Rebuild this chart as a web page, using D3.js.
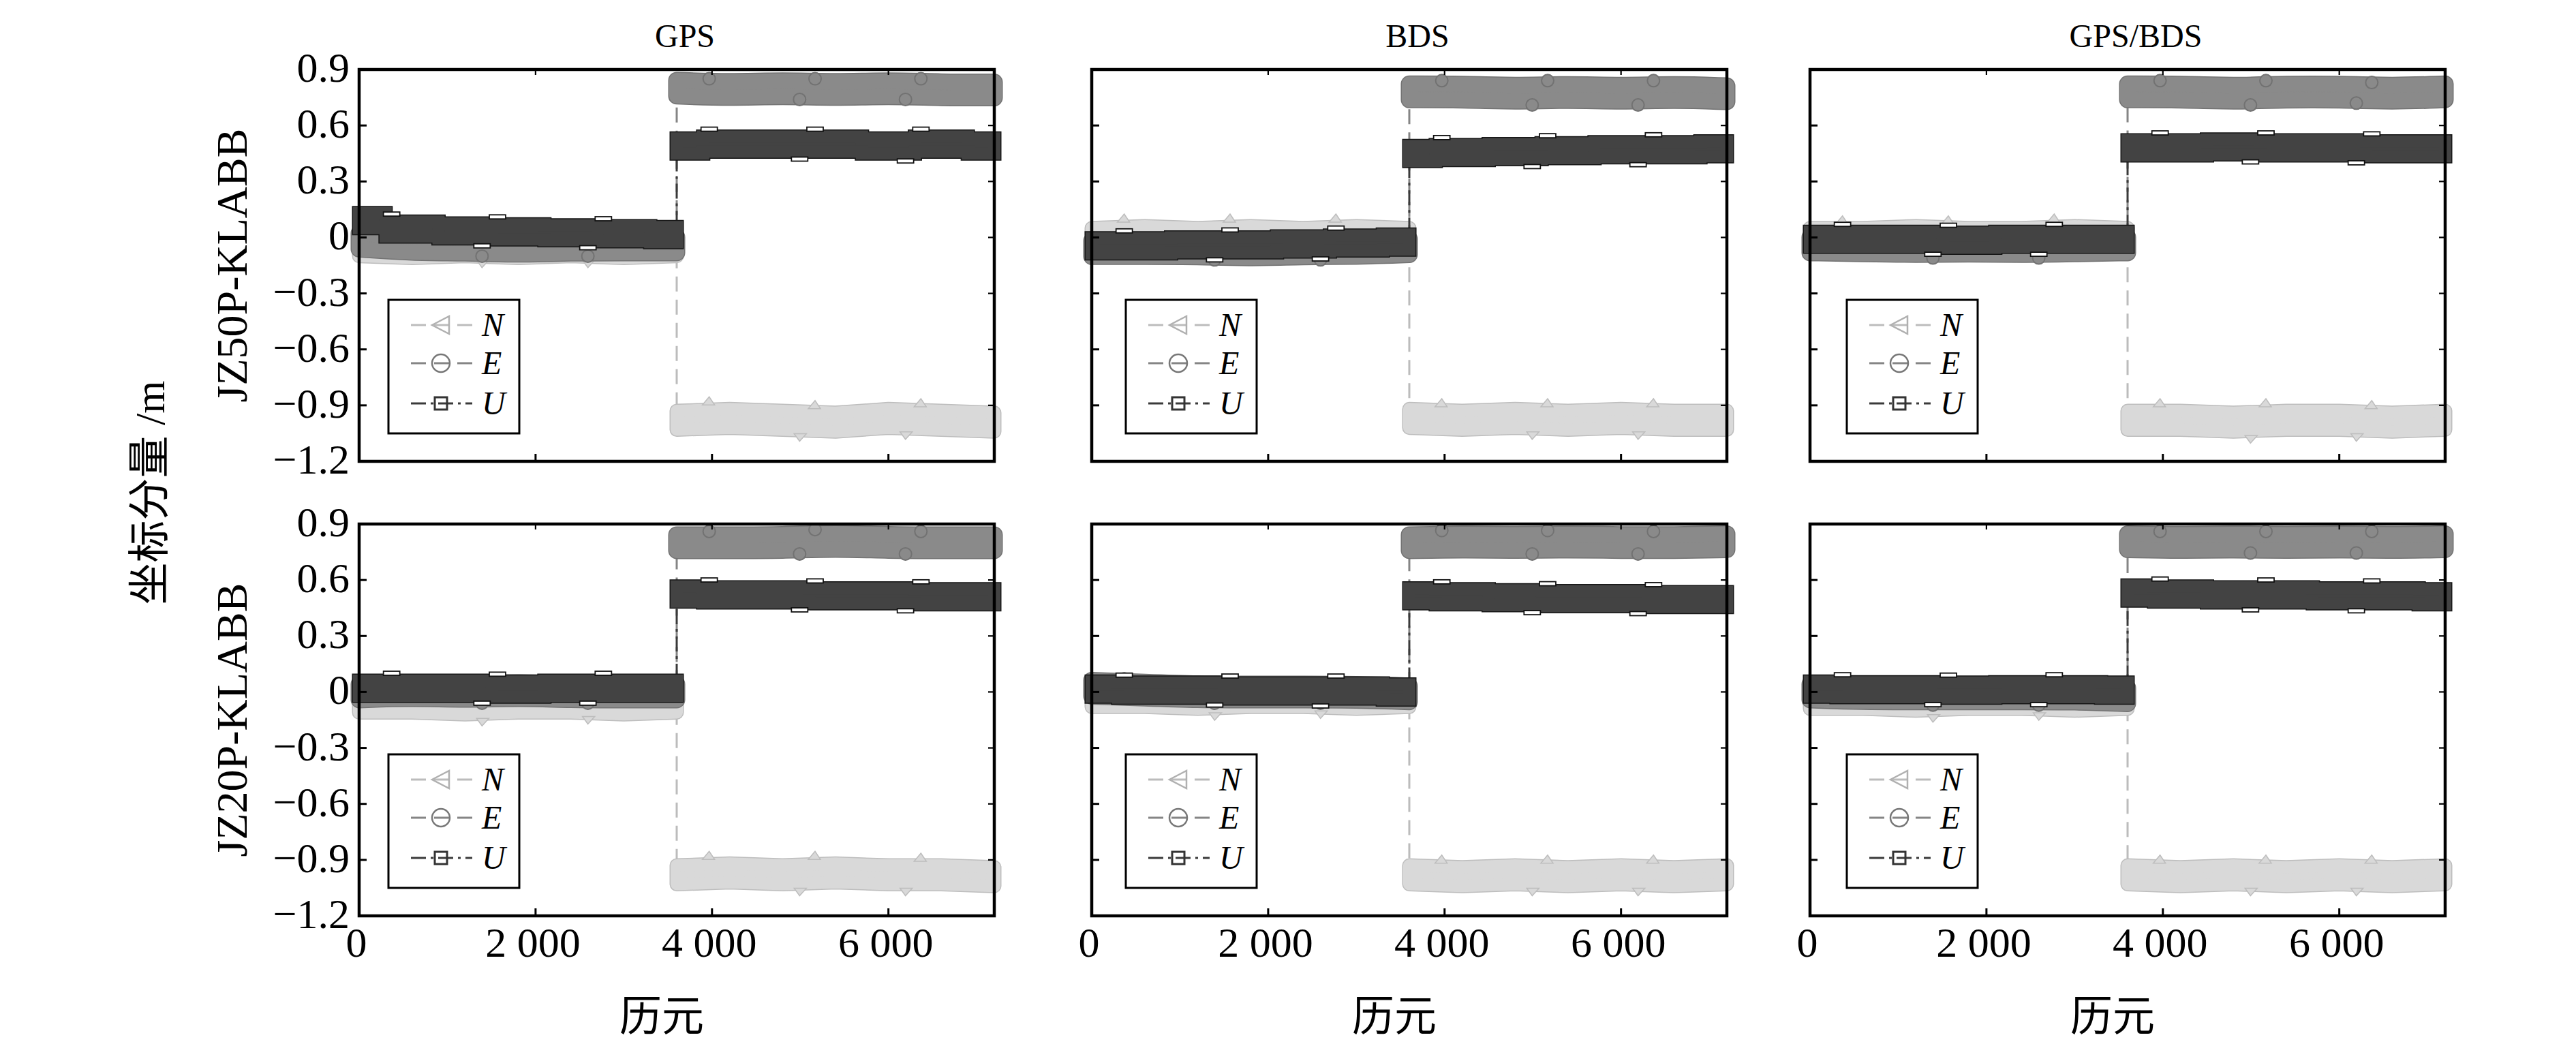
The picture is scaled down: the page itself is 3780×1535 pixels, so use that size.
<!DOCTYPE html>
<html><head><meta charset="utf-8">
<script src="https://cdn.jsdelivr.net/npm/d3@7"></script>
<style>body{margin:0;background:#fff}</style>
</head><body>
<svg id="chart" width="3780" height="1535" xmlns="http://www.w3.org/2000/svg"></svg>
<script>
// ---------------- DATA ----------------
const systems = ["GPS", "BDS", "GPS/BDS"];
const stations = ["JZ50P-KLABB", "JZ20P-KLABB"];
const components = ["N", "E", "U"];
const yTicks = [0.9, 0.6, 0.3, 0, -0.3, -0.6, -0.9, -1.2];
const yTickLabels = ["0.9", "0.6", "0.3", "0", "\u22120.3", "\u22120.6", "\u22120.9", "\u22121.2"];
const xTicks = [0, 2000, 4000, 6000];
const xTickLabels = ["0", "2 000", "4 000", "6 000"];
const preEpochs = [0, 600, 1200, 1800, 2400, 3000, 3600];
const postEpochs = [3600, 4200, 4800, 5400, 6000, 6600, 7200];
// noise half-spread (m) of each component band
const spreadN = 0.05, spreadE = 0.042, spreadU = 0.04;

// JZ50P-KLABB, GPS
const jz50GpsNPre = [-0.05, -0.06, -0.05, -0.06, -0.05, -0.06, -0.05];
const jz50GpsNPost = [-0.98, -0.97, -0.98, -0.99, -0.97, -0.98, -0.99];
const jz50GpsEPre = [-0.02, -0.04, -0.04, -0.05, -0.04, -0.04, -0.04];
const jz50GpsEPost = [0.80, 0.79, 0.80, 0.79, 0.80, 0.79, 0.79];
const jz50GpsUPre = [0.09, 0.045, 0.035, 0.03, 0.025, 0.02, 0.015];
const jz50GpsUPost = [0.49, 0.50, 0.50, 0.50, 0.49, 0.50, 0.49];
// JZ50P-KLABB, BDS
const jz50BdsNPre = [0.0, 0.01, 0.0, 0.01, 0.0, 0.01, 0.0];
const jz50BdsNPost = [-0.97, -0.98, -0.97, -0.98, -0.97, -0.98, -0.98];
const jz50BdsEPre = [-0.06, -0.06, -0.06, -0.07, -0.06, -0.06, -0.05];
const jz50BdsEPost = [0.78, 0.78, 0.77, 0.78, 0.77, 0.78, 0.77];
const jz50BdsUPre = [-0.045, -0.045, -0.04, -0.04, -0.035, -0.03, -0.025];
const jz50BdsUPost = [0.45, 0.455, 0.46, 0.465, 0.47, 0.47, 0.475];
// JZ50P-KLABB, GPS/BDS
const jz50ComNPre = [0.0, 0.0, 0.01, 0.0, 0.0, 0.01, 0.0];
const jz50ComNPost = [-0.98, -0.98, -0.99, -0.98, -0.98, -0.99, -0.98];
const jz50ComEPre = [-0.04, -0.045, -0.05, -0.045, -0.05, -0.045, -0.04];
const jz50ComEPost = [0.78, 0.78, 0.77, 0.78, 0.78, 0.77, 0.78];
const jz50ComUPre = [-0.01, -0.01, -0.01, -0.015, -0.01, -0.01, -0.01];
const jz50ComUPost = [0.48, 0.48, 0.485, 0.48, 0.48, 0.475, 0.475];
// JZ20P-KLABB, GPS
const jz20GpsNPre = [-0.06, -0.06, -0.07, -0.06, -0.06, -0.07, -0.06];
const jz20GpsNPost = [-0.98, -0.97, -0.98, -0.97, -0.98, -0.98, -0.99];
const jz20GpsEPre = [0.0, 0.01, 0.0, 0.01, 0.0, 0.0, 0.0];
const jz20GpsEPost = [0.80, 0.80, 0.80, 0.81, 0.80, 0.80, 0.80];
const jz20GpsUPre = [0.02, 0.02, 0.02, 0.015, 0.02, 0.02, 0.02];
const jz20GpsUPost = [0.525, 0.52, 0.52, 0.515, 0.515, 0.51, 0.51];
// JZ20P-KLABB, BDS
const jz20BdsNPre = [-0.03, -0.03, -0.04, -0.03, -0.03, -0.04, -0.03];
const jz20BdsNPost = [-0.98, -0.99, -0.98, -0.99, -0.98, -0.99, -0.98];
const jz20BdsEPre = [0.02, 0.01, 0.0, 0.0, 0.0, 0.0, -0.01];
const jz20BdsEPost = [0.80, 0.805, 0.80, 0.805, 0.80, 0.80, 0.805];
const jz20BdsUPre = [0.015, 0.01, 0.01, 0.005, 0.005, 0.005, 0.0];
const jz20BdsUPost = [0.515, 0.51, 0.505, 0.50, 0.50, 0.495, 0.495];
// JZ20P-KLABB, GPS/BDS
const jz20ComNPre = [-0.04, -0.04, -0.05, -0.04, -0.04, -0.05, -0.04];
const jz20ComNPost = [-0.98, -0.99, -0.98, -0.99, -0.98, -0.99, -0.98];
const jz20ComEPre = [0.0, -0.01, -0.01, -0.01, -0.01, -0.01, -0.02];
const jz20ComEPost = [0.805, 0.80, 0.805, 0.80, 0.805, 0.80, 0.805];
const jz20ComUPre = [0.015, 0.012, 0.012, 0.01, 0.012, 0.012, 0.01];
const jz20ComUPost = [0.53, 0.525, 0.52, 0.52, 0.515, 0.515, 0.51];

// table built from the arrays: [row][col][component] -> [pre, post]
const table = [
  [
    {N: [jz50GpsNPre, jz50GpsNPost], E: [jz50GpsEPre, jz50GpsEPost], U: [jz50GpsUPre, jz50GpsUPost]},
    {N: [jz50BdsNPre, jz50BdsNPost], E: [jz50BdsEPre, jz50BdsEPost], U: [jz50BdsUPre, jz50BdsUPost]},
    {N: [jz50ComNPre, jz50ComNPost], E: [jz50ComEPre, jz50ComEPost], U: [jz50ComUPre, jz50ComUPost]}
  ],
  [
    {N: [jz20GpsNPre, jz20GpsNPost], E: [jz20GpsEPre, jz20GpsEPost], U: [jz20GpsUPre, jz20GpsUPost]},
    {N: [jz20BdsNPre, jz20BdsNPost], E: [jz20BdsEPre, jz20BdsEPost], U: [jz20BdsUPre, jz20BdsUPost]},
    {N: [jz20ComNPre, jz20ComNPost], E: [jz20ComEPre, jz20ComEPost], U: [jz20ComUPre, jz20ComUPost]}
  ]
];
const spreads = {N: spreadN, E: spreadE, U: spreadU};

// ---------------- LAYOUT / STYLE ----------------
const serif = "'Times New Roman','Liberation Serif','DejaVu Serif',serif";
const cjk = "'Times New Roman','Liberation Serif','Noto Sans CJK SC',serif";
const panelLeft = [527, 1602, 2656];
const panelTop = [102, 769];
const W = 932, H = 575;
const legendDx = [43, 50, 54];

const style = {
  N: {fill: "#d9d9d9", edge: "#bdbdbd", line: "#bcbcbc", dash: "22,12", sw: 18, join: "round", curve: d3.curveLinear},
  E: {fill: "#8a8a8a", edge: "#727272", line: "#858585", dash: "22,12", sw: 22, join: "round", curve: d3.curveBasis},
  U: {fill: "#434343", edge: "#161616", line: "#3a3a3a", dash: "22,7,4,7", sw: 18, join: "miter", curve: d3.curveStep}
};

const x = d3.scaleLinear().domain([0, 7200]).range([0, W]);
const y = d3.scaleLinear().domain([-1.2, 0.9]).range([H, 0]);

const svg = d3.select("#chart");
svg.append("rect").attr("width", 3780).attr("height", 1535).attr("fill", "#fff");

function drawMarker(g, comp, cx, cy) {
  if (comp === "N") {
    g.append("path").attr("d", `M${cx - 13},${cy} L${cx + 12},${cy - 13} L${cx + 12},${cy + 13} Z`)
      .attr("fill", "none").attr("stroke", "#b0b0b0").attr("stroke-width", 2.5);
  } else if (comp === "E") {
    g.append("circle").attr("cx", cx).attr("cy", cy).attr("r", 13)
      .attr("fill", "none").attr("stroke", "#777").attr("stroke-width", 2.5);
  } else {
    g.append("rect").attr("x", cx - 9).attr("y", cy - 9).attr("width", 18).attr("height", 18)
      .attr("fill", "none").attr("stroke", "#333").attr("stroke-width", 3);
  }
}

table.forEach((rowData, r) => {
  rowData.forEach((cell, c) => {
    const g = svg.append("g").attr("transform", `translate(${panelLeft[c]},${panelTop[r]})`);

    components.forEach(comp => {
      const st = style[comp];
      const [pre, post] = cell[comp];
      const s = spreads[comp];
      const prePts = preEpochs.map((e, i) => ({e, v: pre[i]}));
      const postPts = postEpochs.map((e, i) => ({e, v: post[i]}));
      // connecting line (with the jump)
      const line = d3.line().x(d => x(d.e)).y(d => y(d.v));
      g.append("path").attr("d", line(prePts.concat(postPts)))
        .attr("fill", "none").attr("stroke", st.line).attr("stroke-width", 3)
        .attr("stroke-dasharray", st.dash);
      // dense marker bands
      const area = d3.area().curve(st.curve).x(d => x(d.e)).y0(d => y(d.v - s)).y1(d => y(d.v + s));
      [prePts, postPts].forEach(pts => {
        g.append("path").attr("d", area(pts)).attr("fill", st.edge).attr("stroke", st.edge)
          .attr("stroke-width", st.sw + 3).attr("stroke-linejoin", st.join);
        g.append("path").attr("d", area(pts)).attr("fill", st.fill).attr("stroke", st.fill)
          .attr("stroke-width", st.sw).attr("stroke-linejoin", st.join);
        // edge texture from the sampled points
        pts.forEach((d, i) => {
          if (i === 0 || i === pts.length - 1) return;
          const top = i % 2 === 1;
          const ey = top ? y(d.v + s) - st.sw / 2 : y(d.v - s) + st.sw / 2;
          const px = x(d.e) + (top ? -30 : 25);
          if (comp === "U") {
            g.append("rect").attr("x", px - 12).attr("y", top ? ey - 5 : ey - 1)
              .attr("width", 24).attr("height", 6).attr("fill", "#fff")
              .attr("stroke", "#111").attr("stroke-width", 1.8);
          } else if (comp === "E") {
            g.append("circle").attr("cx", px).attr("cy", top ? ey + 6 : ey - 6).attr("r", 9)
              .attr("fill", st.fill).attr("stroke", st.edge).attr("stroke-width", 2);
          } else {
            if (top) {
              g.append("path").attr("d", `M${px - 10},${ey + 3} L${px},${ey - 9} L${px + 8},${ey + 3} Z`)
                .attr("fill", st.fill).attr("stroke", st.edge).attr("stroke-width", 1.5);
            } else {
              g.append("path").attr("d", `M${px - 8},${ey - 3} L${px},${ey + 8} L${px + 10},${ey - 3} Z`)
                .attr("fill", st.fill).attr("stroke", st.edge).attr("stroke-width", 1.5);
            }
          }
        });
      });
    });

    // ticks (inward, all sides)
    const yt = yTicks.filter(v => v > -1.2 && v < 0.9);
    const xt = xTicks.filter(v => v > 0);
    g.selectAll(".tl").data(yt).enter().append("line")
      .attr("x1", 0).attr("x2", 11).attr("y1", d => y(d)).attr("y2", d => y(d))
      .attr("stroke", "#000").attr("stroke-width", 3);
    g.selectAll(".tr").data(yt).enter().append("line")
      .attr("x1", W).attr("x2", W - 9).attr("y1", d => y(d)).attr("y2", d => y(d))
      .attr("stroke", "#000").attr("stroke-width", 2.2);
    g.selectAll(".tb").data(xt).enter().append("line")
      .attr("x1", d => x(d)).attr("x2", d => x(d)).attr("y1", H).attr("y2", H - 11)
      .attr("stroke", "#000").attr("stroke-width", 3);
    g.selectAll(".tt").data(xt).enter().append("line")
      .attr("x1", d => x(d)).attr("x2", d => x(d)).attr("y1", 0).attr("y2", 8)
      .attr("stroke", "#000").attr("stroke-width", 2.2);

    // frame
    g.append("rect").attr("x", 0).attr("y", 0).attr("width", W).attr("height", H)
      .attr("fill", "none").attr("stroke", "#000").attr("stroke-width", 4.5);

    // y tick labels on first column
    if (c === 0) {
      g.selectAll(".yl").data(yTicks).enter().append("text")
        .attr("x", -14).attr("y", d => y(d) + 18)
        .attr("text-anchor", "end").attr("font-family", serif).attr("font-size", 62)
        .text((d, i) => yTickLabels[i]);
    }
    // x tick labels on bottom row
    if (r === 1) {
      g.selectAll(".xl").data(xTicks).enter().append("text")
        .attr("x", d => x(d) - 4).attr("y", H + 60)
        .attr("text-anchor", "middle").attr("font-family", serif).attr("font-size", 62)
        .text((d, i) => xTickLabels[i]);
      g.append("text").attr("x", W / 2 - 22).attr("y", H + 169)
        .attr("text-anchor", "middle").attr("font-family", cjk).attr("font-size", 62)
        .text("历元");
    }
    // titles on top row
    if (r === 0) {
      g.append("text").attr("x", W / 2 + 12).attr("y", -33)
        .attr("text-anchor", "middle").attr("font-family", serif).attr("font-size", 48)
        .text(systems[c]);
    }

    // legend
    const lx = legendDx[c], ly = 338;
    const lg = g.append("g");
    lg.append("rect").attr("x", lx).attr("y", ly).attr("width", 192).attr("height", 196)
      .attr("fill", "#fff").attr("stroke", "#000").attr("stroke-width", 3);
    const rowsY = [37, 93, 152];
    components.forEach((comp, i) => {
      const st = style[comp];
      const cy = ly + rowsY[i];
      lg.append("line").attr("x1", lx + 33).attr("x2", lx + 123).attr("y1", cy).attr("y2", cy)
        .attr("stroke", st.line).attr("stroke-width", 3).attr("stroke-dasharray", st.dash);
      drawMarker(lg, comp, lx + 77, cy);
      lg.append("text").attr("x", lx + 137).attr("y", cy + 16)
        .attr("font-family", serif).attr("font-style", "italic").attr("font-size", 48)
        .text(comp);
    });
  });
});

// row labels
stations.forEach((s, r) => {
  const cy = panelTop[r] + H / 2;
  svg.append("text").attr("transform", `translate(362,${cy}) rotate(-90)`)
    .attr("text-anchor", "middle").attr("font-family", serif).attr("font-size", 64)
    .text(s);
});
// common y label
svg.append("text").attr("transform", `translate(220,723) rotate(-90)`)
  .attr("text-anchor", "middle").attr("dominant-baseline", "central")
  .attr("font-family", cjk).attr("font-size", 62)
  .text("坐标分量 /m");
</script>
</body></html>
